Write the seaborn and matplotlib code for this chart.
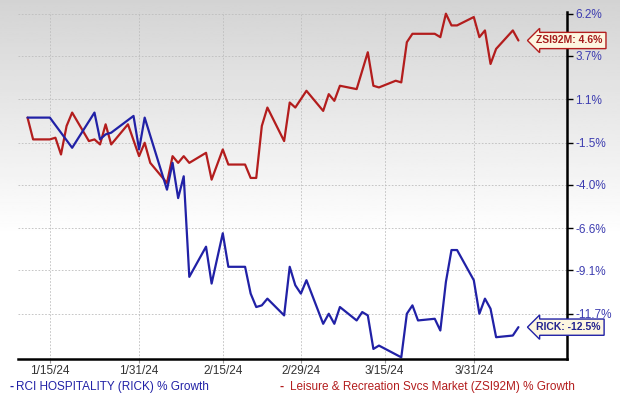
import numpy as np
import pandas as pd
import seaborn as sns
import matplotlib.pyplot as plt

# RCI Hospitality (RICK) % growth
rick_dates = ['2024-01-11', '2024-01-15', '2024-01-19', '2024-01-23', '2024-01-24', '2024-01-25',
              '2024-01-26', '2024-01-30', '2024-01-31', '2024-02-01', '2024-02-05', '2024-02-06',
              '2024-02-07', '2024-02-08', '2024-02-09', '2024-02-12', '2024-02-13', '2024-02-15',
              '2024-02-16', '2024-02-19', '2024-02-20', '2024-02-21', '2024-02-22', '2024-02-23',
              '2024-02-26', '2024-02-27', '2024-02-28', '2024-02-29', '2024-03-01', '2024-03-04',
              '2024-03-05', '2024-03-06', '2024-03-07', '2024-03-10', '2024-03-11', '2024-03-12',
              '2024-03-13', '2024-03-14', '2024-03-18', '2024-03-19', '2024-03-20', '2024-03-21',
              '2024-03-24', '2024-03-25', '2024-03-26', '2024-03-27', '2024-03-28', '2024-03-31',
              '2024-04-01', '2024-04-02', '2024-04-03', '2024-04-04', '2024-04-07', '2024-04-08']
rick_growth = [0.0, 0.0, -1.8, 0.3, -1.3, -1.0,
               -0.9, 0.1, -1.9, 0.0, -4.3, -2.7,
               -4.8, -3.5, -9.5, -7.7, -9.9, -6.9,
               -8.9, -8.9, -10.5, -11.3, -11.2, -10.8,
               -11.8, -8.9, -10.0, -10.5, -9.7, -12.3,
               -11.7, -12.3, -11.3, -12.1, -11.6, -11.8,
               -13.8, -13.6, -14.3, -11.7, -11.2, -12.1,
               -12.0, -12.7, -9.8, -7.9, -7.9, -9.7,
               -11.7, -10.8, -11.4, -13.1, -13.0, -12.5]

# Leisure & Recreation Svcs Market (ZSI92M) % growth
zsi_dates = ['2024-01-11', '2024-01-12', '2024-01-15', '2024-01-16', '2024-01-17', '2024-01-18',
             '2024-01-19', '2024-01-22', '2024-01-23', '2024-01-24', '2024-01-25', '2024-01-26',
             '2024-01-29', '2024-01-31', '2024-02-01', '2024-02-02', '2024-02-05', '2024-02-06',
             '2024-02-07', '2024-02-08', '2024-02-09', '2024-02-12', '2024-02-13', '2024-02-15',
             '2024-02-16', '2024-02-19', '2024-02-20', '2024-02-21', '2024-02-22', '2024-02-23',
             '2024-02-26', '2024-02-27', '2024-02-28', '2024-03-01', '2024-03-04', '2024-03-05',
             '2024-03-06', '2024-03-07', '2024-03-10', '2024-03-12', '2024-03-13', '2024-03-14',
             '2024-03-17', '2024-03-18', '2024-03-19', '2024-03-20', '2024-03-24', '2024-03-25',
             '2024-03-26', '2024-03-27', '2024-03-28', '2024-03-31', '2024-04-01', '2024-04-02',
             '2024-04-03', '2024-04-04', '2024-04-07', '2024-04-08']
zsi_growth = [0.0, -1.3, -1.3, -1.2, -2.2, -0.5,
              0.3, -1.4, -1.3, -1.6, -0.4, -1.6,
              -0.4, -2.3, -1.5, -2.7, -3.9, -2.3,
              -2.7, -2.3, -2.7, -2.1, -3.7, -1.9,
              -2.8, -2.8, -3.6, -3.6, -0.5, 0.6,
              -1.4, 0.9, 0.6, 1.6, 0.4, 1.4,
              1.0, 1.9, 1.7, 3.9, 1.9, 1.8,
              2.2, 2.1, 4.5, 5.0, 5.0, 4.8,
              6.2, 5.5, 5.5, 6.0, 4.8, 5.2,
              3.2, 4.1, 5.2, 4.6]

y_ticks = [6.2, 3.7, 1.1, -1.5, -4.0, -6.6, -9.1, -11.7]
x_ticks = ['2024-01-15', '2024-01-31', '2024-02-15', '2024-02-29', '2024-03-15', '2024-03-31']
x_labels = ['1/15/24', '1/31/24', '2/15/24', '2/29/24', '3/15/24', '3/31/24']

BLUE = '#2121a6'
RED = '#b31d1d'

rick = pd.DataFrame({'date': pd.to_datetime(rick_dates), 'growth': rick_growth})
zsi = pd.DataFrame({'date': pd.to_datetime(zsi_dates), 'growth': zsi_growth})

sns.set_style('white')
plt.rcParams['font.family'] = ['Liberation Sans', 'DejaVu Sans']

fig = plt.figure(figsize=(6.2, 4.04), dpi=100)

# soft grey-to-white background gradient
bg = fig.add_axes([0, 0, 1, 1], zorder=-10)
shade = np.clip(np.linspace(0.83, 1.12, 200), 0, 1)[:, None]
bg.imshow(shade, aspect='auto', cmap='gray', vmin=0, vmax=1, extent=[0, 1, 0, 1])
bg.axis('off')

ax = fig.add_axes([18 / 620, 1 - 359 / 404, (567 - 18) / 620, (359 - 12) / 404])
ax.patch.set_alpha(0)

sns.lineplot(data=zsi, x='date', y='growth', ax=ax, color=RED, lw=1.6)
sns.lineplot(data=rick, x='date', y='growth', ax=ax, color=BLUE, lw=1.6)

ax.set_xlim(pd.Timestamp('2024-01-09 07:00'), pd.Timestamp('2024-04-16 17:00'))
ax.set_ylim(-14.4, 6.3)

ax.yaxis.tick_right()
ax.set_yticks(y_ticks)
ax.set_yticklabels([f'{v:.1f}%' for v in y_ticks], color='#3c3cb0', fontsize=8.5)
ax.set_xticks(pd.to_datetime(x_ticks))
ax.set_xticklabels(x_labels, color='#333333', fontsize=8.5)
ax.tick_params(axis='y', right=True, length=4, width=1, color='black', pad=2)
ax.tick_params(axis='x', bottom=True, length=3, width=0.8, color='#999999', pad=1.5)
ax.set_xlabel('')
ax.set_ylabel('')

for side in ['left', 'top']:
    ax.spines[side].set_visible(False)
for side in ['right', 'bottom']:
    ax.spines[side].set_color('black')
    ax.spines[side].set_linewidth(1.8)

ax.grid(True, ls=(0, (2, 2)), color='#bdbdbd', lw=0.6)

# end-of-line value tags
ax.annotate(f'ZSI92M: {zsi_growth[-1]:.1f}%', xy=(zsi['date'].iloc[-1], zsi_growth[-1]),
            xytext=(13, 0), textcoords='offset points', ha='left', va='center',
            fontsize=7.5, fontweight='bold', color='#a51c1c', annotation_clip=False,
            bbox=dict(boxstyle='larrow,pad=0.3', fc='#fdf6e0', ec=RED, lw=1))
ax.annotate(f'RICK: {rick_growth[-1]:.1f}%', xy=(rick['date'].iloc[-1], rick_growth[-1]),
            xytext=(13, 0), textcoords='offset points', ha='left', va='center',
            fontsize=7.5, fontweight='bold', color='#23238f', annotation_clip=False,
            bbox=dict(boxstyle='larrow,pad=0.3', fc='#fdf6e0', ec=BLUE, lw=1))

# legend row under the axis
narrow = ['Liberation Sans Narrow', 'Liberation Sans', 'DejaVu Sans']
leg_y = 1 - 387 / 404
fig.text(10 / 620, leg_y, '-', color=BLUE, fontsize=9, fontweight='bold', va='center')
fig.text(16 / 620, leg_y, 'RCI HOSPITALITY (RICK) % Growth', color=BLUE,
         fontsize=8.5, family=narrow, va='center')
fig.text(280 / 620, leg_y, '-', color=RED, fontsize=9, fontweight='bold', va='center')
fig.text(290 / 620, leg_y, 'Leisure & Recreation Svcs Market (ZSI92M) % Growth', color=RED,
         fontsize=8.5, family=narrow, va='center')

plt.savefig('out.png', dpi=100)
plt.close()
